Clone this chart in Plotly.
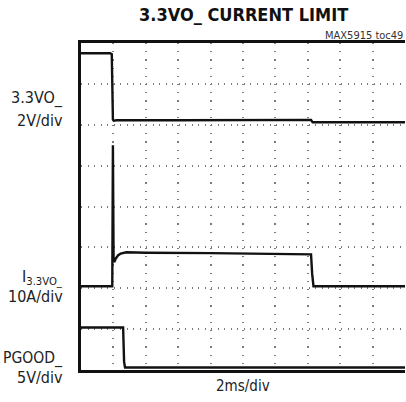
import plotly.graph_objects as go

# ---------------- data ----------------
# time axis: 2 ms/div, 10 divisions
t_total_ms = 20
time_dtick_ms = 2

# 3.3VO_ output voltage (V), 2 V/div, ground at division 6
vout_t = [0.0, 1.80, 1.90, 1.97, 2.02, 2.2, 6.0, 10.0, 14.2, 14.3, 16.0, 20.0]
vout_v = [3.50, 3.50, 3.45, 0.25, 0.20, 0.22, 0.22, 0.22, 0.24, 0.12, 0.12, 0.12]
vout_scale = 2.0
vout_ground_div = 6.0

# I3.3VO_ output current (A), 10 A/div, ground at division 2.05
iout_t = [0.0, 1.93, 1.97, 2.01, 2.06, 2.15, 2.3, 2.45, 2.8, 4.0, 8.0, 12.0, 14.2, 14.27, 14.35, 17.0, 20.0]
iout_a = [0.0, 0.0, 34.5, 7.0, 5.9, 6.8, 7.6, 8.0, 8.3, 8.2, 8.1, 7.9, 7.8, 3.0, 0.0, 0.0, 0.0]
iout_scale = 10.0
iout_ground_div = 2.05

# PGOOD_ (V), 5 V/div, ground at division 0.0
pg_t = [0.0, 2.60, 2.66, 2.72, 20.0]
pg_v = [5.20, 5.20, 1.0, 0.30, 0.30]
pg_scale = 5.0
pg_ground_div = 0.0

title_text = "3.3VO_ CURRENT LIMIT"
tag_text = "MAX5915 toc49"
time_label = "2ms/div"

# ---------------- figure ----------------
W, H = 406, 402
L, R, T, B = 81, 1, 43, 32
pw, ph = W - L - R, H - T - B


def to_div(vals, scale, ground):
    return [ground + v / scale for v in vals]


fig = go.Figure()
trace_color = "#111111"
for tx, vals, sc, gd in [
    (vout_t, vout_v, vout_scale, vout_ground_div),
    (iout_t, iout_a, iout_scale, iout_ground_div),
    (pg_t, pg_v, pg_scale, pg_ground_div),
]:
    fig.add_trace(go.Scatter(
        x=tx, y=to_div(vals, sc, gd), mode="lines",
        line=dict(color=trace_color, width=2.4),
        hoverinfo="skip", showlegend=False,
    ))

fig.update_xaxes(
    range=[0, t_total_ms], dtick=time_dtick_ms, tick0=0,
    showticklabels=False, ticks="",
    showgrid=True, gridcolor="#7a7a7a", gridwidth=2, griddash="1.2px,7px",
    zeroline=False, showline=True, linecolor="#111", linewidth=3, mirror=True,
    fixedrange=True,
)
fig.update_yaxes(
    range=[0, 8], dtick=1, tick0=0,
    showticklabels=False, ticks="",
    showgrid=True, gridcolor="#7a7a7a", gridwidth=2, griddash="1.2px,5.3px",
    zeroline=False, showline=True, linecolor="#111", linewidth=3, mirror=False,
    fixedrange=True,
)

lab_font = dict(family="DejaVu Sans Condensed, Liberation Sans Narrow, Roboto, sans-serif",
                size=16, color="#222")


def px_x(px):
    return (px - L) / pw


def px_y(py):
    return (H - B - py) / ph


annos = [
    ("3.3VO_", 65, 98, "right", lab_font),
    ("2V/div", 65, 120, "right", lab_font),
    ("I<sub>3.3VO_</sub>", 65, 277, "right", lab_font),
    ("10A/div", 65, 296, "right", lab_font),
    ("PGOOD_", 65, 358, "right", dict(lab_font, size=15.5)),
    ("5V/div", 65, 377, "right", lab_font),
    (time_label, 243, 386, "center", dict(lab_font, size=15)),
    (tag_text, 405, 35, "right", dict(lab_font, size=11, color="#333")),
    ("<b>" + title_text + "</b>", 243, 15, "center",
     dict(lab_font, size=18, color="#111")),
]
for text, x, y, xa, f in annos:
    fig.add_annotation(text=text, x=px_x(x), y=px_y(y), xref="paper", yref="paper",
                       xanchor=xa, yanchor="middle", showarrow=False, font=f)

fig.update_layout(
    width=W, height=H, autosize=False,
    margin=dict(l=L, r=R, t=T, b=B, pad=0),
    paper_bgcolor="white", plot_bgcolor="white",
)

fig.write_html("out.html", config={"displayModeBar": False},
               post_script="document.body.style.margin='0';document.body.style.padding='0';")
